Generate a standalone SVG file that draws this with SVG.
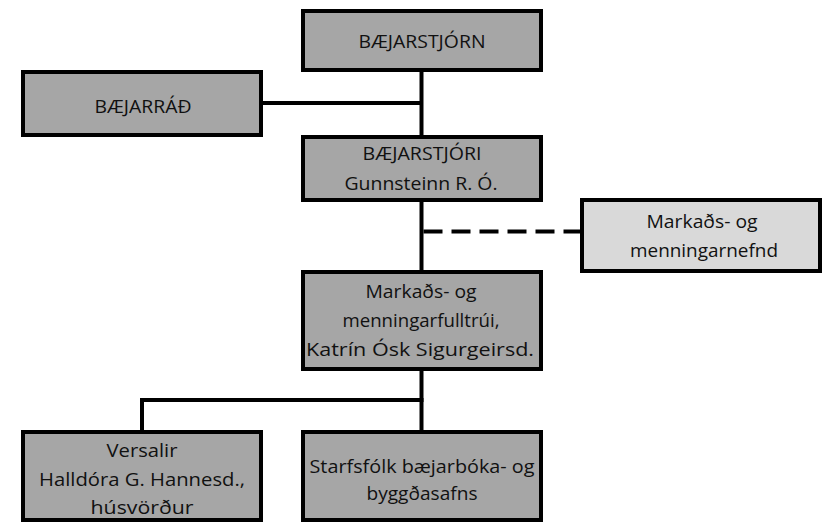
<svg xmlns="http://www.w3.org/2000/svg" width="823" height="522" viewBox="0 0 823 522">
<style>
.box{fill:#a6a6a6;stroke:#000;stroke-width:4}
.lite{fill:#d9d9d9;stroke:#000;stroke-width:4}
.ln{stroke:#000;stroke-width:4;fill:none}
.dash{stroke:#000;stroke-width:4;fill:none;stroke-dasharray:19 9}
text{font-family:"Open Sans","Liberation Sans",sans-serif;font-size:18px;fill:#111;text-anchor:middle}
</style>
<rect width="823" height="522" fill="#fff"/>
<g id="connectors">
<line class="ln" x1="421.5" y1="70" x2="421.5" y2="137"/>
<line class="ln" x1="261" y1="103" x2="421.5" y2="103"/>
<line class="ln" x1="421.5" y1="200" x2="421.5" y2="272"/>
<line class="dash" x1="423.5" y1="231.5" x2="582" y2="231.5"/>
<line class="ln" x1="421.5" y1="369" x2="421.5" y2="432"/>
<line class="ln" x1="140" y1="400" x2="423.5" y2="400"/>
<line class="ln" x1="142" y1="398" x2="142" y2="432"/>
</g>
<g id="bajarstjorn">
<rect class="box" x="303" y="11" width="238" height="59"/>
<text x="422" y="48" textLength="127" lengthAdjust="spacingAndGlyphs">BÆJARSTJÓRN</text>
</g>
<g id="bajarrad">
<rect class="box" x="23" y="72" width="238" height="63"/>
<text x="143" y="113" textLength="97" lengthAdjust="spacingAndGlyphs">BÆJARRÁÐ</text>
</g>
<g id="bajarstjori">
<rect class="box" x="303" y="137" width="238" height="63"/>
<text x="422" y="160" textLength="119" lengthAdjust="spacingAndGlyphs">BÆJARSTJÓRI</text>
<text x="421" y="190" textLength="153" lengthAdjust="spacingAndGlyphs">Gunnsteinn R. Ó.</text>
</g>
<g id="nefnd">
<rect class="lite" x="582" y="200" width="238" height="71"/>
<text x="702" y="228" textLength="111" lengthAdjust="spacingAndGlyphs">Markaðs- og</text>
<text x="704" y="257" textLength="148" lengthAdjust="spacingAndGlyphs">menningarnefnd</text>
</g>
<g id="fulltrui">
<rect class="box" x="303" y="272" width="238" height="97"/>
<text x="421" y="298" textLength="111" lengthAdjust="spacingAndGlyphs">Markaðs- og</text>
<text x="421" y="327" textLength="157" lengthAdjust="spacingAndGlyphs">menningarfulltrúi,</text>
<text x="420" y="356" textLength="228" lengthAdjust="spacingAndGlyphs">Katrín Ósk Sigurgeirsd.</text>
</g>
<g id="versalir">
<rect class="box" x="23" y="432" width="238" height="88"/>
<text x="142" y="457" textLength="71" lengthAdjust="spacingAndGlyphs">Versalir</text>
<text x="142" y="486" textLength="206" lengthAdjust="spacingAndGlyphs">Halldóra G. Hannesd.,</text>
<text x="142" y="514" textLength="103" lengthAdjust="spacingAndGlyphs">húsvörður</text>
</g>
<g id="starfsfolk">
<rect class="box" x="303" y="432" width="238" height="88"/>
<text x="422" y="473" textLength="225" lengthAdjust="spacingAndGlyphs">Starfsfólk bæjarbóka- og</text>
<text x="422" y="500" textLength="111" lengthAdjust="spacingAndGlyphs">byggðasafns</text>
</g>
</svg>
